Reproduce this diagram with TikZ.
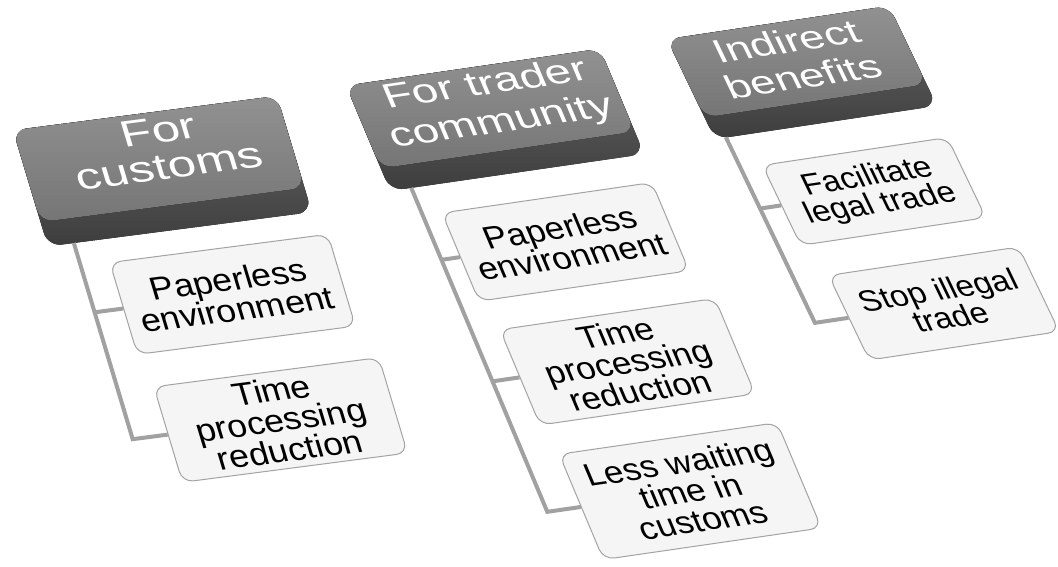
\documentclass[tikz,border=0pt]{standalone}
\usepackage{fontspec}
\setmainfont{Liberation Sans}
\definecolor{hdrlight}{gray}{0.57}
\definecolor{hdrmid}{gray}{0.46}
\definecolor{hdrdark}{gray}{0.30}
\definecolor{itemfill}{gray}{0.96}
\definecolor{itemline}{gray}{0.64}
\definecolor{linkgray}{gray}{0.63}
\tikzset{
  hdrbase/.style = {rounded corners = 14pt, top color = hdrdark!85!white, bottom color = hdrdark!80!black},
  hdrtop/.style = {rounded corners = 13pt, top color = hdrlight, bottom color = hdrmid},
  hdrtext/.style = {transform shape, yscale = 0.8, text = white, align = center, inner sep = 0pt},
  item/.style = {transform shape, draw = itemline, line width = 1pt, fill = itemfill,
    rounded corners = 11pt, align = center, inner sep = 0pt},
  link/.style = {draw = linkgray, line width = 4pt},
}
\begin{document}
\begin{tikzpicture}[x = 1pt, y = 1pt]
\useasboundingbox (0,0) rectangle (1058,-566);

%For customs
\begin{scope}[cm = {1,0.13,-0.27,0.9,(15,-130)}]
  \fill [hdrbase] (-2,0) rectangle (262,-129);
  \fill [hdrtop] (-2,0) rectangle (262,-102);
  \node [hdrtext, font = \fontsize{50}{50}\selectfont]
  (h1) at (138,-40) {For\\customs};
  %Items
  \node [item, minimum width = 218pt, minimum height = 102pt, font = \fontsize{35}{33}\selectfont]
  (c1a) at (162,-206) {Paperless\\environment};
  \node [item, minimum width = 225pt, minimum height = 106pt, font = \fontsize{35}{33}\selectfont]
  (c1b) at (172,-347) {Time\\processing\\reduction};
  %Links
  \coordinate (t1) at (24,-129);
  \coordinate (j1a) at (24,-206);
  \coordinate (j1b) at (24,-347);
  \draw [link] (t1)--(j1b)--(c1b.west);
  \draw [link] (j1a)--(c1a.west);
\end{scope}

%For trader community
\begin{scope}[cm = {1,0.145,-0.378,0.9,(350,-85)}]
  \fill [hdrbase] (-4,0) rectangle (250,-117);
  \fill [hdrtop] (-4,0) rectangle (250,-92);
  \node [hdrtext, font = \fontsize{46}{52}\selectfont]
  (h2) at (128,-42) {For trader\\community};
  %Items
  \node [item, minimum width = 210pt, minimum height = 98pt, font = \fontsize{34}{32}\selectfont]
  (c2a) at (141,-197) {Paperless\\environment};
  \node [item, minimum width = 215pt, minimum height = 106pt, font = \fontsize{34}{32}\selectfont]
  (c2b) at (152,-332) {Time\\processing\\reduction};
  \node [item, minimum width = 218pt, minimum height = 117pt, font = \fontsize{34}{32}\selectfont]
  (c2c) at (160,-477) {Less waiting\\time in\\customs};
  %Links
  \coordinate (t2) at (17,-117);
  \coordinate (j2a) at (17,-197);
  \coordinate (j2b) at (17,-332);
  \coordinate (j2c) at (17,-477);
  \draw [link] (t2)--(j2c)--(c2c.west);
  \draw [link] (j2a)--(c2a.west);
  \draw [link] (j2b)--(c2b.west);
\end{scope}

%Indirect benefits
\begin{scope}[cm = {1,0.15,-0.432,0.9,(675,-38)}]
  \fill [hdrbase] (-8,0) rectangle (214,-111);
  \fill [hdrtop] (-8,0) rectangle (214,-87);
  \node [hdrtext, font = \fontsize{44}{49}\selectfont]
  (h3) at (102,-40) {Indirect\\benefits};
  %Items
  \node [item, minimum width = 185pt, minimum height = 89pt, font = \fontsize{32}{30}\selectfont]
  (c3a) at (117,-190) {Facilitate\\legal trade};
  \node [item, minimum width = 190pt, minimum height = 94pt, font = \fontsize{32}{30}\selectfont]
  (c3b) at (132,-317) {Stop illegal\\trade};
  %Links
  \coordinate (t3) at (3,-111);
  \coordinate (j3a) at (3,-190);
  \coordinate (j3b) at (3,-317);
  \draw [link] (t3)--(j3b)--(c3b.west);
  \draw [link] (j3a)--(c3a.west);
\end{scope}

\end{tikzpicture}
\end{document}
